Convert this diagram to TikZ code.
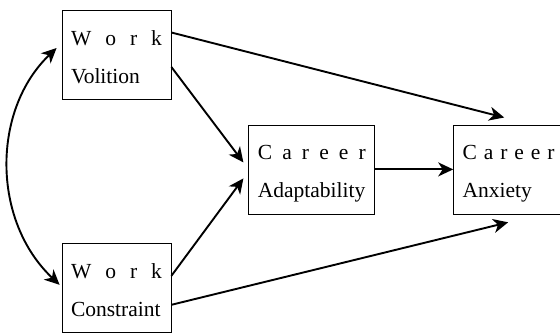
\documentclass[tikz,border=0pt]{standalone}
\usepackage{fontspec}
\setmainfont{Liberation Serif}
\usetikzlibrary{positioning,calc,arrows.meta}

\tikzset{
  varbox/.style={draw, line width=0.8pt, inner xsep=9pt, inner ysep=0pt,
    text height=35pt, text depth=54pt, align=left,
    font=\fontsize{21.5}{38}\selectfont},
  path/.style={-{Stealth[length=15pt,width=14pt,inset=4.5pt]}, line width=1.9pt}
}

\begin{document}
\begin{tikzpicture}
\useasboundingbox (0,0) rectangle (560pt,-333pt);

\node[varbox, text width=91pt] (vol) at (116.5pt,-54.5pt) {W\hfill o\hfill r\hfill k\\Volition};
\node[varbox, text width=91pt, below=144pt of vol] (con) {W\hfill o\hfill r\hfill k\\Constraint};
\node[varbox, text width=108pt, right=77pt of $(vol.east)!0.5!(con.east)$, yshift=2pt] (adapt) {C\hfill a\hfill r\hfill e\hfill e\hfill r\\Adaptability};
\node[varbox, text width=92pt, right=78pt of adapt] (anx) {C\hfill a\hfill r\hfill e\hfill e\hfill r\\Anxiety};

\draw[path] ([yshift=22pt]vol.east) -- ([xshift=51pt,yshift=7pt]anx.north west);
\draw[path] ([yshift=-12.5pt]vol.east) -- ([xshift=-5pt,yshift=7pt]adapt.west);
\draw[path] ([yshift=12.5pt]con.east) -- ([xshift=-5pt,yshift=-9pt]adapt.west);
\draw[path] ([yshift=-16.5pt]con.east) -- ([xshift=55pt,yshift=-8pt]anx.south west);
\draw[path] (adapt.east) -- (anx.west);
\draw[path, {Stealth[length=15pt,width=14pt,inset=4.5pt]}-{Stealth[length=15pt,width=14pt,inset=4.5pt]}]
  ([xshift=-5pt,yshift=6.5pt]vol.west) .. controls +(-65pt,-62pt) and +(-68pt,64pt) .. ([xshift=-2pt,yshift=3.5pt]con.west);
\end{tikzpicture}
\end{document}
